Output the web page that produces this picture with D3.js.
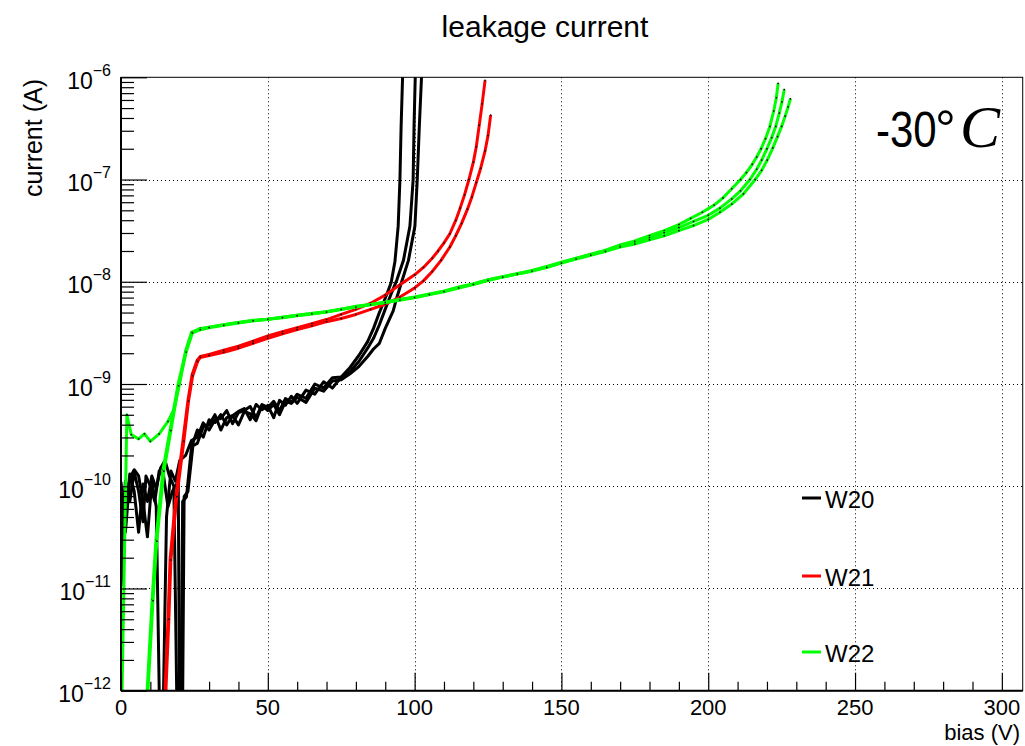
<!DOCTYPE html>
<html>
<head>
<meta charset="utf-8">
<script src="https://cdn.jsdelivr.net/npm/d3@7"></script>
<style>
  body { margin: 0; background: #fff; }
  text { font-family: "Liberation Sans", Arial, Helvetica, sans-serif; fill: #000; }
</style>
</head>
<body>
<div id="chart"></div>
<script>
// ---- data (bias in V, current in A) ----
// W20 (black), three sensors
var w20aBias = [0, 1.5, 3, 4.5, 6, 7.5, 9, 10.5, 12, 13.3, 14.2, 15.5, 17, 18.5, 20, 22, 24, 26, 28, 30, 32, 34, 36, 38, 40, 42, 44, 46, 48, 50, 52, 54, 56, 58, 60, 63, 66, 69, 72, 75, 78, 81, 84, 86, 88, 90, 92, 93.3, 94.4, 95, 95.4, 96];
var w20aCur = [1.1e-10, 3.55e-11, 1.2e-10, 1.45e-10, 1.26e-10, 7.1e-11, 3.2e-11, 1.12e-10, 6.3e-11, 3.2e-13, 3.2e-13, 5.0e-11, 1.41e-10, 1.12e-10, 1.78e-10, 2.0e-10, 2.8e-10,
  3.02e-10, 4.17e-10, 3.55e-10, 4.47e-10, 4.6e-10, 5.5e-10, 4.1e-10, 5.25e-10, 5.5e-10, 6.03e-10, 4.68e-10, 6.3e-10, 5.9e-10, 6.76e-10, 5.5e-10, 7.2e-10, 6.61e-10, 7.94e-10, 7.24e-10, 1.0e-9, 9.12e-10, 1.15e-9, 1.17e-9,
  1.45e-9, 1.9e-9, 2.6e-9, 3.5e-9, 5.0e-9, 6.9e-9, 9.8e-9, 1.58e-8, 3.5e-8, 1.0e-7, 3.3e-7, 1.26e-6];

var w20bBias = [0, 1.5, 3, 4.5, 6, 7.5, 9, 10.5, 12, 13.5, 15, 16.5, 18, 19.2, 20.3, 21, 22.3, 24, 26, 28, 30, 32, 34, 36, 38, 40, 42, 44, 46, 48, 50, 52, 54, 56, 58, 60, 63, 66, 69, 72, 75, 78, 81, 84, 86, 88, 90, 92, 94, 96.2, 98.4, 99.5, 99.8, 100.3];
var w20bCur = [1.05e-11, 5.0e-11, 1.32e-10, 8.9e-11, 3.55e-11, 1.05e-10, 7.1e-11, 1.26e-10, 9.5e-11, 1.51e-10, 1.78e-10, 1.26e-10, 1.0e-10, 3.2e-13, 3.2e-13, 7.1e-11, 7.9e-11, 2.4e-10,
  3.55e-10, 3.02e-10, 4.47e-10, 4.2e-10, 5.01e-10, 3.98e-10, 4.9e-10, 5.4e-10, 5.75e-10, 4.47e-10, 6.31e-10, 5.6e-10, 6.17e-10, 4.68e-10, 6.92e-10, 6.2e-10, 7.59e-10, 6.46e-10, 8.71e-10, 7.94e-10, 1.05e-9, 9.12e-10, 1.17e-9,
  1.32e-9, 1.66e-9, 2.24e-9, 2.8e-9, 3.8e-9, 5.4e-9, 7.6e-9, 1.05e-8, 1.62e-8, 3.5e-8, 1.0e-7, 3.3e-7, 1.26e-6];

var w20cBias = [0, 1.5, 3, 4.5, 6, 7.5, 8.5, 10, 11.5, 13, 14.5, 16, 17.5, 19.5, 20, 20.9, 21.5, 22.8, 24.5, 26, 28, 30, 32, 34, 36, 38, 40, 42, 44, 46, 48, 50, 52, 54, 56, 58, 60, 63, 66, 69, 72, 75, 78, 81, 84, 86, 88, 90, 92.7, 94, 95.6, 97.9, 100.1, 100.9, 101.6, 102.5];
var w20cCur = [2.5e-11, 1.12e-10, 7.1e-11, 1.38e-10, 8.9e-11, 4.5e-11, 1.26e-10, 1.0e-10, 7.1e-11, 1.41e-10, 1.26e-10, 6.3e-11, 8.9e-11, 1.12e-10, 3.2e-13, 3.2e-13, 7.9e-11, 8.9e-11, 2.5e-10,
  2.63e-10, 3.8e-10, 3.98e-10, 5.01e-10, 3.55e-10, 4.68e-10, 4.9e-10, 3.98e-10, 5.37e-10, 5.13e-10, 4.37e-10, 6.17e-10, 5.5e-10, 6.31e-10, 5.01e-10, 6.76e-10, 6.46e-10, 7.41e-10, 6.61e-10, 9.12e-10, 8.51e-10, 1.07e-9, 1.1e-9,
  1.26e-9, 1.48e-9, 1.86e-9, 2.2e-9, 2.5e-9, 3.5e-9, 5.2e-9, 7.1e-9, 1.0e-8, 1.62e-8, 3.5e-8, 1.0e-7, 3.3e-7, 1.26e-6];

// W21 (red), two sensors
var w21aBias = [14.7, 15, 16, 16.7, 18.7, 21.1, 22.8, 24.2, 25.9, 27, 30, 35, 40, 45, 50, 55, 60, 65, 70, 75, 80, 85, 90, 95, 100, 103, 106, 108, 110, 112, 114, 115.5, 117, 118.5, 120, 121, 122, 123, 124];
var w21aCur = [2.5e-13, 1.0e-12, 4.9e-12, 1.9e-11, 8.1e-11, 2.8e-10, 6.9e-10, 1.23e-9, 1.7e-9, 1.86e-9,
  1.95e-9, 2.14e-9, 2.34e-9, 2.63e-9, 2.95e-9, 3.24e-9, 3.55e-9, 3.9e-9, 4.27e-9, 4.8e-9,
  5.37e-9, 6.17e-9, 7.41e-9, 9.33e-9, 1.17e-8,
  1.38e-8, 1.7e-8, 2.0e-8, 2.4e-8, 2.95e-8, 3.98e-8, 5.25e-8, 7.08e-8, 1.0e-7, 1.48e-7, 2.09e-7, 3.39e-7, 5.5e-7, 9.33e-7];

var w21bBias = [15.0, 15.3, 16.3, 17.0, 19.0, 21.4, 23.0, 24.4, 26.1, 27, 30, 35, 40, 45, 50, 55, 60, 65, 70, 75, 80, 85, 90, 95, 100, 103, 106, 109, 112, 114, 116, 118, 119.5, 121, 122.5, 124, 125, 125.9];
var w21bCur = [2.5e-13, 1.0e-12, 5.0e-12, 1.9e-11, 7.9e-11, 2.75e-10, 6.8e-10, 1.2e-9, 1.66e-9, 1.82e-9,
  1.9e-9, 2.04e-9, 2.24e-9, 2.5e-9, 2.8e-9, 3.1e-9, 3.4e-9, 3.7e-9, 4.07e-9, 4.37e-9,
  4.79e-9, 5.37e-9, 6.03e-9, 7.08e-9, 8.71e-9,
  1.02e-8, 1.26e-8, 1.62e-8, 2.19e-8, 2.82e-8, 3.72e-8, 5.13e-8, 6.76e-8, 9.33e-8, 1.29e-7, 1.91e-7, 2.69e-7, 4.27e-7];

// W22 (green), three sensors
var w22aBias = [0, 2, 3.5, 6, 8, 10, 13, 16, 18, 20, 22, 24, 27, 30, 35, 40, 45, 50, 55, 60, 65, 70, 75, 80, 85, 90, 95, 100, 105, 110, 115, 120, 125, 130, 135, 140, 145, 150, 155, 160, 165,
  170, 175, 180, 185, 190, 194, 198, 202, 205, 208, 211, 213, 215, 216.5, 218, 219.5, 221, 222.3, 223.2, 223.8];
var w22aCur = [2.5e-13, 5.0e-10, 3.2e-10, 2.9e-10, 3.25e-10, 2.75e-10, 3.25e-10, 4.3e-10, 5.6e-10, 1.02e-9, 2.1e-9, 3.2e-9, 3.5e-9, 3.6e-9, 3.8e-9, 4.0e-9, 4.2e-9, 4.3e-9, 4.5e-9, 4.7e-9, 4.9e-9, 5.1e-9, 5.4e-9, 5.75e-9, 6.0e-9, 6.3e-9, 6.7e-9, 7.1e-9, 7.6e-9, 8.1e-9, 8.9e-9, 9.5e-9, 1.05e-8, 1.12e-8, 1.2e-8, 1.29e-8, 1.41e-8, 1.55e-8, 1.7e-8, 1.86e-8, 2.04e-8,
  2.29e-8, 2.51e-8, 2.82e-8, 3.16e-8, 3.63e-8, 4.17e-8, 4.79e-8, 5.62e-8, 6.61e-8, 8.13e-8, 1.0e-7, 1.17e-7, 1.41e-7, 1.66e-7, 2.0e-7, 2.51e-7, 3.31e-7, 4.68e-7, 6.31e-7, 8.71e-7];

var w22bBias = [8.5, 8.9, 10.6, 11.9, 14.3, 16.7, 19.4, 22.1, 24.2, 27, 30, 35, 40, 45, 50, 55, 60, 65, 70, 75, 80, 85, 90, 95, 100, 105, 110, 115, 120, 125, 130, 135, 140, 145, 150, 155, 160, 165,
  170, 175, 180, 185, 190, 195, 200, 204, 208, 211, 214.2, 216.5, 218.2, 220, 221.6, 223, 224.2, 225.1, 225.9];
var w22bCur = [2.5e-13, 1.0e-12, 7.8e-12, 3.0e-11, 1.45e-10, 3.55e-10, 9.8e-10, 2.1e-9, 3.2e-9, 3.4e-9, 3.6e-9, 3.8e-9, 4.0e-9, 4.15e-9, 4.3e-9, 4.5e-9, 4.7e-9, 4.9e-9, 5.1e-9, 5.4e-9, 5.7e-9, 6.0e-9, 6.3e-9, 6.7e-9, 7.0e-9, 7.5e-9, 8.1e-9, 8.8e-9, 9.5e-9, 1.04e-8, 1.12e-8, 1.2e-8, 1.28e-8, 1.4e-8, 1.54e-8, 1.69e-8, 1.85e-8, 2.0e-8,
  2.24e-8, 2.45e-8, 2.69e-8, 3.02e-8, 3.39e-8, 3.89e-8, 4.47e-8, 5.25e-8, 6.46e-8, 7.76e-8, 1.0e-7, 1.26e-7, 1.55e-7, 2.0e-7, 2.57e-7, 3.31e-7, 4.47e-7, 5.75e-7, 7.59e-7];

var w22cBias = [8.8, 9.2, 10.9, 12.2, 14.6, 17, 19.6, 22.2, 24.3, 27, 30, 35, 40, 45, 50, 55, 60, 65, 70, 75, 80, 85, 90, 95, 100, 105, 110, 115, 120, 125, 130, 135, 140, 145, 150, 155, 160, 165,
  170, 175, 180, 185, 190, 195, 200, 204, 208, 212, 216, 218.2, 220.1, 222, 223.6, 225, 226.2, 227.2, 228];
var w22cCur = [2.5e-13, 1.0e-12, 7.6e-12, 2.9e-11, 1.4e-10, 3.5e-10, 9.6e-10, 2.05e-9, 3.15e-9, 3.4e-9, 3.55e-9, 3.75e-9, 3.95e-9, 4.15e-9, 4.3e-9, 4.45e-9, 4.65e-9, 4.85e-9, 5.05e-9, 5.35e-9, 5.65e-9, 5.95e-9, 6.25e-9, 6.6e-9, 7.0e-9, 7.5e-9, 8.0e-9, 8.7e-9, 9.4e-9, 1.03e-8, 1.11e-8, 1.19e-8, 1.27e-8, 1.38e-8, 1.52e-8, 1.67e-8, 1.82e-8, 1.98e-8,
  2.19e-8, 2.34e-8, 2.57e-8, 2.82e-8, 3.16e-8, 3.55e-8, 4.07e-8, 4.79e-8, 5.75e-8, 7.24e-8, 1.0e-7, 1.23e-7, 1.55e-7, 2.04e-7, 2.63e-7, 3.31e-7, 4.17e-7, 5.13e-7, 6.17e-7];

// axis ticks
var xMajor = [0, 50, 100, 150, 200, 250, 300];
var yMajor = [1e-12, 1e-11, 1e-10, 1e-9, 1e-8, 1e-7, 1e-6];
var yExp = ['\u221212', '\u221211', '\u221210', '\u22129', '\u22128', '\u22127', '\u22126'];

var wafers = [
  {name: 'W20', color: '#000000', sets: [[w20aBias, w20aCur], [w20bBias, w20bCur], [w20cBias, w20cCur]]},
  {name: 'W21', color: '#ff0000', sets: [[w21aBias, w21aCur], [w21bBias, w21bCur]]},
  {name: 'W22', color: '#00ff00', sets: [[w22aBias, w22aCur], [w22bBias, w22bCur], [w22cBias, w22cCur]]}
];

// ---- layout ----
var width = 1025, height = 746;
var fl = 121, fr = 1022.7, ft = 77.3, fb = 690.7; // frame edges

var x = d3.scaleLinear().domain([0, 307.1]).range([fl, fr]);
var y = d3.scaleLog().domain([1e-12, 1e-6]).range([fb, ft]);

var xMinor = d3.range(0, 308, 10).filter(function(v) { return v % 50 !== 0; });
var yMinor = [];
yMajor.slice(0, -1).forEach(function(d) {
  for (var k = 2; k <= 9; k++) yMinor.push(d * k);
});

var svg = d3.select('#chart').append('svg')
  .attr('width', width).attr('height', height);

svg.append('rect').attr('width', width).attr('height', height).attr('fill', '#fff');

svg.append('defs').append('clipPath').attr('id', 'frame')
  .append('rect').attr('x', fl).attr('y', ft).attr('width', fr - fl).attr('height', fb - ft);

// grid
var grid = svg.append('g')
  .attr('stroke', '#000').attr('stroke-width', 1).attr('stroke-dasharray', '1,3');
grid.selectAll('.gx').data(xMajor.filter(function(v) { return v > 0; }))
  .enter().append('line')
  .attr('x1', function(d) { return Math.round(x(d)) + 0.5; })
  .attr('x2', function(d) { return Math.round(x(d)) + 0.5; })
  .attr('y1', ft).attr('y2', fb);
grid.selectAll('.gy').data(yMajor.slice(1, -1))
  .enter().append('line')
  .attr('y1', function(d) { return Math.round(y(d)) + 0.5; })
  .attr('y2', function(d) { return Math.round(y(d)) + 0.5; })
  .attr('x1', fl).attr('x2', fr);

// curves
var line = d3.line()
  .x(function(d) { return x(d[0]); })
  .y(function(d) { return y(d[1]); });

var plot = svg.append('g').attr('clip-path', 'url(#frame)');
wafers.forEach(function(w) {
  w.sets.forEach(function(s) {
    var pts = s[0].map(function(v, i) { return [v, s[1][i]]; });
    plot.append('path')
      .datum(pts)
      .attr('d', line)
      .attr('fill', 'none')
      .attr('stroke', w.color)
      .attr('stroke-width', 3)
      .attr('stroke-linejoin', 'round');
    plot.append('g').selectAll('rect').data(pts)
      .enter().append('rect')
      .attr('x', function(d) { return x(d[0]) - 0.75; })
      .attr('y', function(d) { return y(d[1]) - 0.75; })
      .attr('width', 1.5).attr('height', 1.5)
      .attr('fill', '#000');
  });
});

// frame
svg.append('rect')
  .attr('x', fl).attr('y', ft).attr('width', fr - fl).attr('height', fb - ft)
  .attr('fill', 'none').attr('stroke', '#000').attr('stroke-width', 1);

// axes (ticks point inward)
function styleAxis(g) {
  g.selectAll('path').remove();
  g.selectAll('line').attr('stroke', '#000').attr('stroke-width', 1.2);
}
svg.append('g').attr('transform', 'translate(0,' + fb + ')')
  .call(d3.axisBottom(x).tickValues(xMajor).tickSize(-18).tickFormat(''))
  .call(styleAxis);
svg.append('g').attr('transform', 'translate(0,' + fb + ')')
  .call(d3.axisBottom(x).tickValues(xMinor).tickSize(-9).tickFormat(''))
  .call(styleAxis);
svg.append('g').attr('transform', 'translate(' + fl + ',0)')
  .call(d3.axisLeft(y).tickValues(yMajor).tickSize(-26).tickFormat(''))
  .call(styleAxis);
svg.append('g').attr('transform', 'translate(' + fl + ',0)')
  .call(d3.axisLeft(y).tickValues(yMinor).tickSize(-13).tickFormat(''))
  .call(styleAxis);

svg.append('line').attr('x1', fl).attr('x2', fr).attr('y1', fb).attr('y2', fb)
  .attr('stroke', '#000').attr('stroke-width', 2);
svg.append('line').attr('x1', fl).attr('x2', fl).attr('y1', ft).attr('y2', fb)
  .attr('stroke', '#000').attr('stroke-width', 2);

// tick labels
svg.append('g').selectAll('text').data(xMajor)
  .enter().append('text')
  .attr('x', function(d) { return x(d); })
  .attr('y', 715)
  .attr('text-anchor', 'middle')
  .style('font-size', '22px')
  .text(function(d) { return d; });

var yl = svg.append('g').selectAll('text').data(yMajor)
  .enter().append('text')
  .attr('x', 111)
  .attr('y', function(d) { return y(d) + 11.5; })
  .attr('text-anchor', 'end')
  .style('font-size', '23px');
yl.append('tspan').text('10');
yl.append('tspan').attr('dy', -13).style('font-size', '16px')
  .text(function(d, i) { return yExp[i]; });

// titles
svg.append('text').attr('x', 545).attr('y', 36.5).attr('text-anchor', 'middle')
  .style('font-size', '30px').text('leakage current');
svg.append('text').attr('x', 1020).attr('y', 740).attr('text-anchor', 'end')
  .style('font-size', '22px').text('bias (V)');
svg.append('text').attr('transform', 'translate(41.5,79) rotate(-90)')
  .attr('text-anchor', 'end')
  .style('font-size', '25px').text('current (A)');

// temperature label
svg.append('text').attr('transform', 'translate(876,147) scale(1,1.2)')
  .style('font-size', '42px').text('-30');
svg.append('text').attr('x', 935).attr('y', 147)
  .style('font-size', '52px').text('\u00b0');
svg.append('text').attr('x', 960).attr('y', 147)
  .style('font-family', '"Liberation Serif", "Times New Roman", serif')
  .style('font-style', 'italic')
  .style('font-size', '60px').text('C');

// legend
var legY = [498, 576, 652];
var leg = svg.append('g').selectAll('g').data(wafers)
  .enter().append('g')
  .attr('transform', function(d, i) { return 'translate(0,' + legY[i] + ')'; });
leg.append('line').attr('x1', 802).attr('x2', 821).attr('y1', 0).attr('y2', 0)
  .attr('stroke', function(d) { return d.color; }).attr('stroke-width', 3);
leg.append('text').attr('x', 825).attr('y', 10)
  .style('font-size', '24px').text(function(d) { return d.name; });
</script>
</body>
</html>
